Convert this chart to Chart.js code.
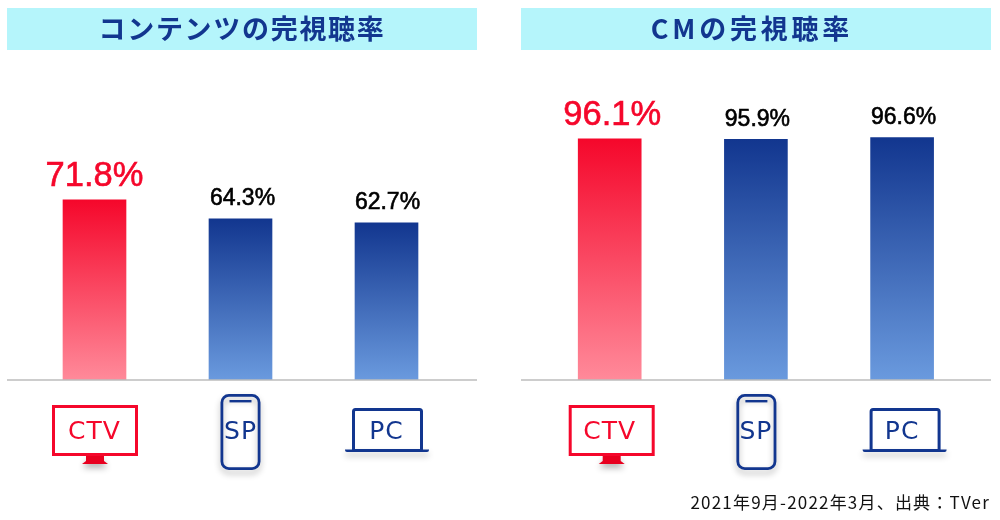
<!DOCTYPE html>
<html lang="ja">
<head>
<meta charset="utf-8">
<title>完視聴率</title>
<script src="https://cdn.jsdelivr.net/npm/chart.js@4"></script>
<style>
  html, body { margin: 0; padding: 0; background: #fff; }
  body { position: relative; width: 1000px; height: 520px; overflow: hidden; }
  .panel { position: absolute; top: 0; width: 484px; height: 520px; }
  #note {
    position: absolute; right: 10px; top: 489px; white-space: nowrap;
    font: 17px "Noto Sans CJK JP", sans-serif; letter-spacing: 1.2px; color: #111;
  }
</style>
</head>
<body>
<div class="panel" style="left:0"><canvas id="content-chart"></canvas></div>
<div class="panel" style="left:514px"><canvas id="cm-chart"></canvas></div>
<div id="note">2021年9月-2022年3月、出典：TVer</div>
<script>
const categories = ['CTV', 'SP', 'PC'];
const contentValues = [71.8, 64.3, 62.7];
const cmValues = [96.1, 95.9, 96.6];
const contentTitle = 'コンテンツの完視聴率';
const cmTitle = 'CMの完視聴率';

const RED = '#f5072b';
const BLUE = '#12368f';

function barGradient(context) {
  const { chart, dataIndex, raw } = context;
  const first = dataIndex === 0;
  if (!chart.chartArea) return first ? RED : BLUE;
  const y = chart.scales.y;
  const g = chart.ctx.createLinearGradient(0, y.getPixelForValue(raw), 0, y.getPixelForValue(0));
  g.addColorStop(0, first ? RED : BLUE);
  g.addColorStop(1, first ? '#ff8a9a' : '#6a9ade');
  return g;
}

function softShadow(ctx) {
  ctx.shadowColor = 'rgba(0,0,0,0.3)';
  ctx.shadowBlur = 6;
  ctx.shadowOffsetY = 4;
}

function drawTv(ctx, x) {
  ctx.save();
  softShadow(ctx);
  ctx.fillStyle = '#e8001f';
  ctx.beginPath();
  ctx.moveTo(x - 9, 456);
  ctx.lineTo(x + 9, 456);
  ctx.lineTo(x + 9, 461);
  ctx.lineTo(x + 13, 464);
  ctx.lineTo(x - 13, 464);
  ctx.lineTo(x - 9, 461);
  ctx.closePath();
  ctx.fill();
  ctx.shadowColor = 'transparent';
  ctx.strokeStyle = RED;
  ctx.lineWidth = 3;
  ctx.strokeRect(x - 41.5, 406.5, 83, 48);
  ctx.restore();
}

function drawPhone(ctx, x) {
  ctx.save();
  softShadow(ctx);
  ctx.strokeStyle = BLUE;
  ctx.lineWidth = 2.8;
  ctx.beginPath();
  ctx.roundRect(x - 18.6, 395.4, 37.2, 73.2, 7);
  ctx.stroke();
  ctx.shadowColor = 'transparent';
  ctx.fillStyle = BLUE;
  ctx.fillRect(x - 11, 400, 22, 2.4);
  ctx.restore();
}

function drawLaptop(ctx, x) {
  ctx.save();
  softShadow(ctx);
  ctx.fillStyle = BLUE;
  ctx.beginPath();
  ctx.roundRect(x - 41.5, 449.5, 84, 2.6, [0, 0, 2, 2]);
  ctx.fill();
  ctx.shadowColor = 'transparent';
  ctx.strokeStyle = BLUE;
  ctx.lineWidth = 3;
  ctx.beginPath();
  ctx.roundRect(x - 33, 409.5, 68, 41, [2, 2, 0, 0]);
  ctx.stroke();
  ctx.restore();
}

const deviceIcons = [drawTv, drawPhone, drawLaptop];

function panelPlugin(title, titleX, titleSpacing, iconShift, labelShift) {
  return {
    id: 'panel',
    beforeDraw(chart) {
      const ctx = chart.ctx;
      ctx.fillStyle = '#b5f5fb';
      ctx.fillRect(7, 8, 470, 42);
      ctx.save();
      ctx.letterSpacing = titleSpacing + 'px';
      ctx.fillStyle = BLUE;
      ctx.font = 'bold 27px "Noto Sans CJK JP", sans-serif';
      ctx.textAlign = 'center';
      ctx.textBaseline = 'middle';
      ctx.fillText(title, titleX, 29);
      ctx.restore();
      // for the axis labels
      ctx.letterSpacing = '1px';
    },
    afterDraw(chart) {
      const ctx = chart.ctx;
      const y0 = chart.scales.y.getPixelForValue(0);
      ctx.save();
      ctx.strokeStyle = '#bdbdbd';
      ctx.lineWidth = 1.5;
      ctx.beginPath();
      ctx.moveTo(7, y0);
      ctx.lineTo(477, y0);
      ctx.stroke();

      // value labels above the bars
      ctx.letterSpacing = '0px';
      ctx.textAlign = 'center';
      ctx.textBaseline = 'alphabetic';
      chart.getDatasetMeta(0).data.forEach((bar, i) => {
        const text = chart.data.datasets[0].data[i].toFixed(1) + '%';
        const x = bar.x + labelShift[i];
        ctx.fillStyle = i === 0 ? RED : '#000';
        ctx.strokeStyle = ctx.fillStyle;
        ctx.lineWidth = 0.6;
        ctx.font = (i === 0 ? '34.5px' : '23px') + ' "Liberation Sans", sans-serif';
        ctx.fillText(text, x, bar.y - 13.5);
        ctx.strokeText(text, x, bar.y - 13.5);
      });

      chart.scales.x.ticks.forEach((t, i) => {
        deviceIcons[i](ctx, chart.scales.x.getPixelForTick(i) + iconShift[i]);
      });
      ctx.restore();
    }
  };
}

function makeChart(id, values, padLeft, padRight, plugin) {
  return new Chart(document.getElementById(id), {
    type: 'bar',
    data: {
      labels: categories,
      datasets: [{
        data: values,
        barThickness: 63,
        backgroundColor: barGradient
      }]
    },
    options: {
      responsive: true,
      maintainAspectRatio: false,
      animation: false,
      layout: { padding: { left: padLeft, right: padRight, top: 79, bottom: 0 } },
      plugins: {
        legend: { display: false },
        tooltip: { enabled: false }
      },
      scales: {
        x: {
          grid: { display: false, drawTicks: false },
          border: { display: false },
          afterFit: scale => { scale.height = 140; },
          ticks: {
            padding: 37,
            maxRotation: 0,
            color: ctx => ctx.index === 0 ? RED : BLUE,
            font: { family: '"DejaVu Sans", sans-serif', size: 25 }
          }
        },
        y: { display: false, min: 0, max: 120 }
      }
    },
    plugins: [plugin]
  });
}

makeChart('content-chart', contentValues, 21.5, 24.5, panelPlugin(contentTitle, 242, 1.7, [0.5, 0, 0], [0, 2, 1]));
makeChart('cm-chart', cmValues, 22.6, 22.8, panelPlugin(cmTitle, 238, 3.8, [2, 0.5, 2], [2.5, 1.5, 1.5]));
</script>
</body>
</html>
